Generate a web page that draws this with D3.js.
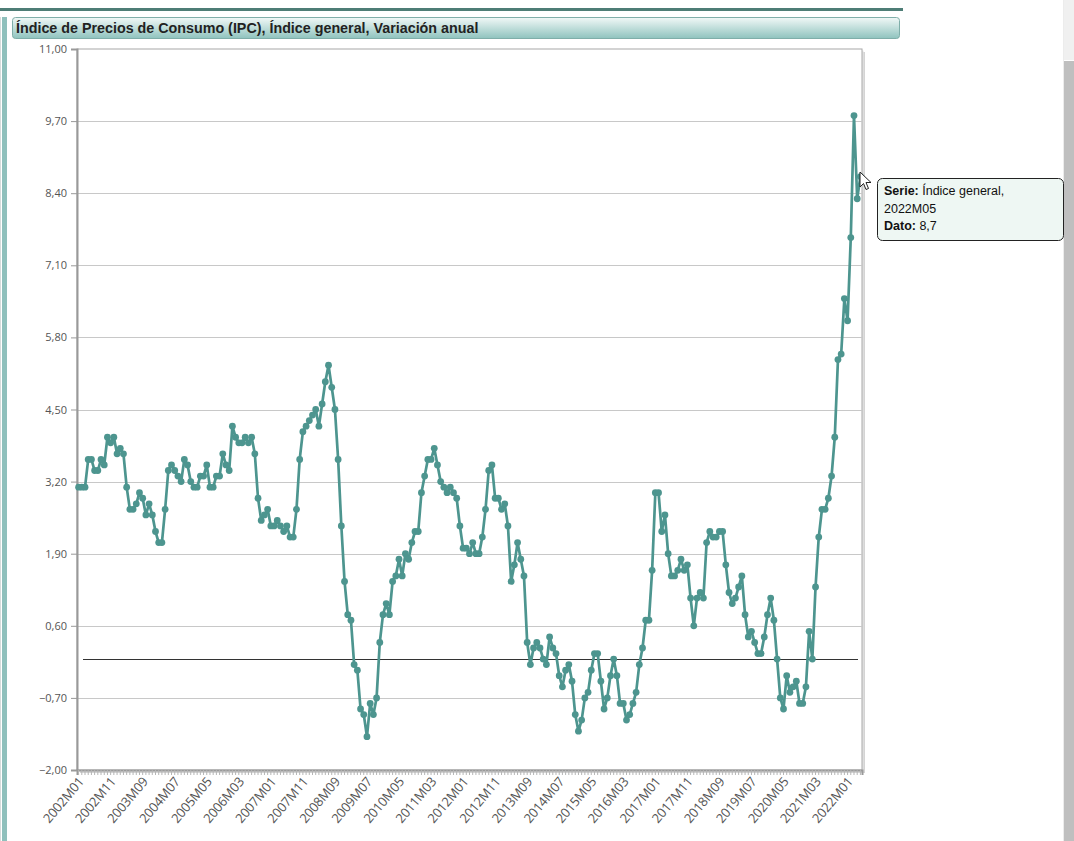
<!DOCTYPE html>
<html>
<head>
<meta charset="utf-8">
<script src="https://cdn.jsdelivr.net/npm/d3@7/dist/d3.min.js"></script>
<style>
  html, body { margin: 0; padding: 0; background: #fff; overflow: hidden; }
  svg { display: block; }
</style>
</head>
<body>
<div id="chart"></div>
<script>
// IPC, variación anual (%), 2002M01 .. 2022M05
const startYear = 2002;
const valores = [
  // 2002
  3.1, 3.1, 3.1, 3.6, 3.6, 3.4, 3.4, 3.6, 3.5, 4.0, 3.9, 4.0,
  // 2003
  3.7, 3.8, 3.7, 3.1, 2.7, 2.7, 2.8, 3.0, 2.9, 2.6, 2.8, 2.6,
  // 2004
  2.3, 2.1, 2.1, 2.7, 3.4, 3.5, 3.4, 3.3, 3.2, 3.6, 3.5, 3.2,
  // 2005
  3.1, 3.1, 3.3, 3.3, 3.5, 3.1, 3.1, 3.3, 3.3, 3.7, 3.5, 3.4,
  // 2006
  4.2, 4.0, 3.9, 3.9, 4.0, 3.9, 4.0, 3.7, 2.9, 2.5, 2.6, 2.7,
  // 2007
  2.4, 2.4, 2.5, 2.4, 2.3, 2.4, 2.2, 2.2, 2.7, 3.6, 4.1, 4.2,
  // 2008
  4.3, 4.4, 4.5, 4.2, 4.6, 5.0, 5.3, 4.9, 4.5, 3.6, 2.4, 1.4,
  // 2009
  0.8, 0.7, -0.1, -0.2, -0.9, -1.0, -1.4, -0.8, -1.0, -0.7, 0.3, 0.8,
  // 2010
  1.0, 0.8, 1.4, 1.5, 1.8, 1.5, 1.9, 1.8, 2.1, 2.3, 2.3, 3.0,
  // 2011
  3.3, 3.6, 3.6, 3.8, 3.5, 3.2, 3.1, 3.0, 3.1, 3.0, 2.9, 2.4,
  // 2012
  2.0, 2.0, 1.9, 2.1, 1.9, 1.9, 2.2, 2.7, 3.4, 3.5, 2.9, 2.9,
  // 2013
  2.7, 2.8, 2.4, 1.4, 1.7, 2.1, 1.8, 1.5, 0.3, -0.1, 0.2, 0.3,
  // 2014
  0.2, 0.0, -0.1, 0.4, 0.2, 0.1, -0.3, -0.5, -0.2, -0.1, -0.4, -1.0,
  // 2015
  -1.3, -1.1, -0.7, -0.6, -0.2, 0.1, 0.1, -0.4, -0.9, -0.7, -0.3, 0.0,
  // 2016
  -0.3, -0.8, -0.8, -1.1, -1.0, -0.8, -0.6, -0.1, 0.2, 0.7, 0.7, 1.6,
  // 2017
  3.0, 3.0, 2.3, 2.6, 1.9, 1.5, 1.5, 1.6, 1.8, 1.6, 1.7, 1.1,
  // 2018
  0.6, 1.1, 1.2, 1.1, 2.1, 2.3, 2.2, 2.2, 2.3, 2.3, 1.7, 1.2,
  // 2019
  1.0, 1.1, 1.3, 1.5, 0.8, 0.4, 0.5, 0.3, 0.1, 0.1, 0.4, 0.8,
  // 2020
  1.1, 0.7, 0.0, -0.7, -0.9, -0.3, -0.6, -0.5, -0.4, -0.8, -0.8, -0.5,
  // 2021
  0.5, 0.0, 1.3, 2.2, 2.7, 2.7, 2.9, 3.3, 4.0, 5.4, 5.5, 6.5,
  // 2022
  6.1, 7.6, 9.8, 8.3, 8.7
];

const periodos = valores.map((v, i) =>
  `${startYear + Math.floor(i / 12)}M${String(i % 12 + 1).padStart(2, "0")}`);

const yTicks = [-2.0, -0.7, 0.6, 1.9, 3.2, 4.5, 5.8, 7.1, 8.4, 9.7, 11.0];
const xLabelEvery = 10;

const titulo = "Índice de Precios de Consumo (IPC), Índice general, Variación anual";
const serie = "Índice general";
const tooltipIdx = periodos.indexOf("2022M05");

const W = 1074, H = 841;
const plot = { left: 77, top: 49, right: 862, bottom: 770 };
const lineColor = "#4d958f";

const svg = d3.select("#chart").append("svg")
  .attr("width", W)
  .attr("height", H);

const defs = svg.append("defs");
const grad = defs.append("linearGradient")
  .attr("id", "titleGrad")
  .attr("x1", 0).attr("y1", 0).attr("x2", 0).attr("y2", 1);
grad.append("stop").attr("offset", "0%").attr("stop-color", "#f1f8f7");
grad.append("stop").attr("offset", "100%").attr("stop-color", "#8fc3be");

// page chrome
svg.append("rect").attr("x", 0).attr("y", 8).attr("width", 903).attr("height", 3)
  .attr("fill", "#4e7d76");
svg.append("rect").attr("x", 0).attr("y", 17).attr("width", 1).attr("height", 824)
  .attr("fill", "#d6dcdb");
svg.append("rect").attr("x", 2).attr("y", 17).attr("width", 5).attr("height", 824)
  .attr("fill", "#8fc0bc");
svg.append("rect").attr("x", 1064).attr("y", 0).attr("width", 10).attr("height", 60)
  .attr("fill", "#f0f0f0");
svg.append("rect").attr("x", 1064).attr("y", 61).attr("width", 10).attr("height", 780)
  .attr("fill", "#bfbfbf");
svg.append("rect").attr("x", 1063).attr("y", 0).attr("width", 1).attr("height", 841)
  .attr("fill", "#ececec");

// title bar
svg.append("rect")
  .attr("x", 12.5).attr("y", 17.5).attr("width", 887).attr("height", 21).attr("rx", 3)
  .attr("fill", "url(#titleGrad)")
  .attr("stroke", "#7faea9");
svg.append("text")
  .attr("x", 16).attr("y", 33)
  .attr("font-family", "Liberation Sans, Arial, sans-serif")
  .attr("font-size", 14.3)
  .attr("font-weight", "bold")
  .attr("fill", "#222")
  .text(titulo);

// scales
const x = d3.scaleBand()
  .domain(periodos)
  .range([plot.left, plot.right]);
const y = d3.scaleLinear()
  .domain([-2, 11])
  .range([plot.bottom, plot.top]);
const cx = d => x(d) + x.bandwidth() / 2;
const fmt = v => d3.format(".2f")(v).replace(".", ",");

// frame with shadow
svg.append("rect")
  .attr("x", plot.left + 3).attr("y", plot.top + 3)
  .attr("width", plot.right - plot.left).attr("height", plot.bottom - plot.top)
  .attr("fill", "#d4d4d4");
svg.append("rect")
  .attr("x", plot.left + 1.5).attr("y", plot.top + 1.5)
  .attr("width", plot.right - plot.left).attr("height", plot.bottom - plot.top)
  .attr("fill", "#e6e6e6");
svg.append("rect")
  .attr("x", plot.left).attr("y", plot.top)
  .attr("width", plot.right - plot.left).attr("height", plot.bottom - plot.top)
  .attr("fill", "#fff")
  .attr("stroke", "#a8a8a8");

// grid
svg.append("g")
  .selectAll("line")
  .data(yTicks.slice(1, -1))
  .join("line")
  .attr("x1", plot.left).attr("x2", plot.right)
  .attr("y1", d => Math.round(y(d)) + 0.5).attr("y2", d => Math.round(y(d)) + 0.5)
  .attr("stroke", "#c8c8c8");

// y axis
const yAxis = svg.append("g")
  .attr("transform", `translate(${plot.left},0)`)
  .call(d3.axisLeft(y).tickValues(yTicks).tickFormat(fmt).tickSize(6).tickPadding(4));
yAxis.select(".domain").attr("stroke", "#999").attr("stroke-width", 2);
yAxis.selectAll(".tick line").attr("stroke", "#999");
yAxis.selectAll(".tick text")
  .attr("font-family", "Open Sans, sans-serif")
  .attr("font-size", 11)
  .attr("fill", "#555");

// x axis: a tick for every month
const xAxis = svg.append("g")
  .attr("transform", `translate(0,${plot.bottom})`)
  .call(d3.axisBottom(x).tickSize(5).tickFormat(""));
xAxis.select(".domain").attr("stroke", "#999").attr("stroke-width", 2);
xAxis.selectAll(".tick line").attr("stroke", "#b5b5b5");

svg.append("g")
  .selectAll("text")
  .data(periodos.filter((d, i) => i % xLabelEvery === 0))
  .join("text")
  .attr("transform", d => `translate(${cx(d) + 6},${plot.bottom + 12}) rotate(-50)`)
  .attr("text-anchor", "end")
  .attr("font-family", "Open Sans, sans-serif")
  .attr("font-size", 13)
  .attr("letter-spacing", -0.2)
  .attr("fill", "#555")
  .text(d => d);

// zero line
svg.append("line")
  .attr("x1", plot.left + 6).attr("x2", plot.right - 4)
  .attr("y1", Math.round(y(0)) + 0.5).attr("y2", Math.round(y(0)) + 0.5)
  .attr("stroke", "#333");

// series
const line = d3.line()
  .x((d, i) => cx(periodos[i]))
  .y(d => y(d));

svg.append("path")
  .datum(valores)
  .attr("d", line)
  .attr("fill", "none")
  .attr("stroke", lineColor)
  .attr("stroke-width", 2.7)
  .attr("stroke-linejoin", "round");

svg.append("g")
  .selectAll("circle")
  .data(valores)
  .join("circle")
  .attr("cx", (d, i) => cx(periodos[i]))
  .attr("cy", d => y(d))
  .attr("r", 3.4)
  .attr("fill", lineColor);

// tooltip
const tip = svg.append("g").attr("transform", "translate(877,178)");
tip.append("rect")
  .attr("x", 0.5).attr("y", 0.5).attr("width", 186).attr("height", 62).attr("rx", 5)
  .attr("fill", "#eef7f3")
  .attr("stroke", "#222");
const tipText = tip.append("text")
  .attr("font-family", "Liberation Sans, Arial, sans-serif")
  .attr("font-size", 12.5)
  .attr("fill", "#111");
const l1 = tipText.append("tspan").attr("x", 7).attr("y", 17);
l1.append("tspan").attr("font-weight", "bold").text("Serie: ");
l1.append("tspan").text(serie + ",");
tipText.append("tspan").attr("x", 7).attr("y", 35).text(periodos[tooltipIdx]);
const l3 = tipText.append("tspan").attr("x", 7).attr("y", 52);
l3.append("tspan").attr("font-weight", "bold").text("Dato: ");
l3.append("tspan").text(String(valores[tooltipIdx]).replace(".", ","));

// mouse pointer
svg.append("path")
  .attr("transform", "translate(860,172)")
  .attr("d", "M0,0 L0,15 L3.5,11.5 L6,17.5 L8.5,16.5 L6,10.5 L11,10.5 Z")
  .attr("fill", "#fff")
  .attr("stroke", "#222")
  .attr("stroke-width", 1);
</script>
</body>
</html>
